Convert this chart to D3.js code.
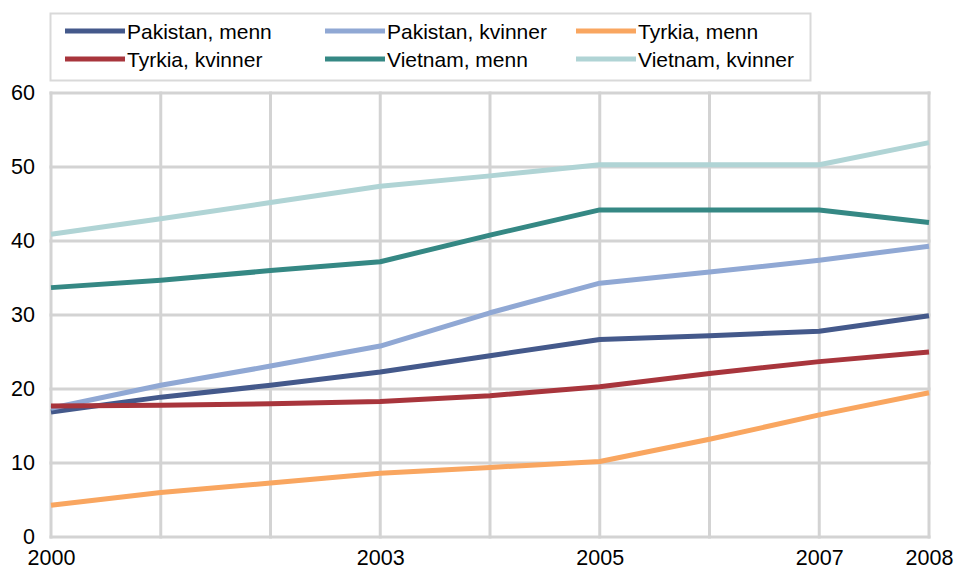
<!DOCTYPE html>
<html>
<head>
<meta charset="utf-8">
<script src="https://cdn.jsdelivr.net/npm/d3@7"></script>
<style>
  html, body { margin: 0; padding: 0; background: #fff; }
  svg { display: block; font-family: "Liberation Sans", Arial, sans-serif; }
</style>
</head>
<body>
<svg id="chart" width="955" height="574"></svg>
<script>
const years = [2000, 2001, 2002, 2003, 2004, 2005, 2006, 2007, 2008];
const xTickLabels = [2000, 2003, 2005, 2007, 2008];
const yTicks = [0, 10, 20, 30, 40, 50, 60];

const seriesNames = ["Pakistan, menn", "Pakistan, kvinner", "Tyrkia, menn", "Tyrkia, kvinner", "Vietnam, menn", "Vietnam, kvinner"];
const seriesColors = ["#44598b", "#90a8d4", "#f9a660", "#a8353c", "#358884", "#b0d4d5"];

const pakistanMenn    = [16.9, 18.9, 20.5, 22.3, 24.5, 26.7, 27.2, 27.8, 29.9];
const pakistanKvinner = [17.4, 20.5, 23.1, 25.8, 30.3, 34.3, 35.8, 37.4, 39.3];
const tyrkiaMenn      = [4.3, 6.0, 7.3, 8.6, 9.4, 10.2, 13.2, 16.5, 19.5];
const tyrkiaKvinner   = [17.7, 17.8, 18.0, 18.3, 19.1, 20.3, 22.1, 23.7, 25.0];
const vietnamMenn     = [33.7, 34.7, 36.0, 37.2, 40.8, 44.2, 44.2, 44.2, 42.5];
const vietnamKvinner  = [40.9, 43.0, 45.2, 47.4, 48.8, 50.3, 50.3, 50.3, 53.3];

const seriesValues = [pakistanMenn, pakistanKvinner, tyrkiaMenn, tyrkiaKvinner, vietnamMenn, vietnamKvinner];

const svg = d3.select("#chart");
const margin = { left: 51, right: 26, top: 93, bottom: 37 };
const W = 955, H = 574;

const x = d3.scaleLinear().domain([2000, 2008]).range([margin.left, W - margin.right]);
const y = d3.scaleLinear().domain([0, 60]).range([H - margin.bottom, margin.top]);

const gridColor = "#d3d3d3";

// vertical gridlines
svg.append("g").selectAll("line").data(years).join("line")
  .attr("x1", d => x(d)).attr("x2", d => x(d))
  .attr("y1", y(60) - 1.5).attr("y2", y(0) + 1.5)
  .attr("stroke", gridColor).attr("stroke-width", 3);

// horizontal gridlines
svg.append("g").selectAll("line").data(yTicks).join("line")
  .attr("x1", x(2000) - 1.5).attr("x2", x(2008) + 1.5)
  .attr("y1", d => y(d)).attr("y2", d => y(d))
  .attr("stroke", gridColor).attr("stroke-width", 3);

// y axis labels
const yAxis = d3.axisLeft(y).tickValues(yTicks).tickSize(0).tickPadding(16).tickFormat(d3.format("d"));
const gy = svg.append("g").attr("transform", `translate(${margin.left},0)`).call(yAxis);
gy.select(".domain").remove();
gy.selectAll("text").attr("font-size", 21.5).attr("fill", "#000")
  .attr("font-family", "'Liberation Sans', Arial, sans-serif");

// x axis labels
const xAxis = d3.axisBottom(x).tickValues(xTickLabels).tickSize(0).tickPadding(13).tickFormat(d3.format("d"));
const gx = svg.append("g").attr("transform", `translate(0,${y(0)})`).call(xAxis);
gx.select(".domain").remove();
gx.selectAll("text").attr("font-size", 21.5).attr("fill", "#000")
  .attr("font-family", "'Liberation Sans', Arial, sans-serif");

// lines
const line = d3.line().x((d, i) => x(years[i])).y(d => y(d));
svg.append("g").selectAll("path").data(seriesValues).join("path")
  .attr("d", d => line(d))
  .attr("fill", "none")
  .attr("stroke", (d, i) => seriesColors[i])
  .attr("stroke-width", 5)
  .attr("stroke-linejoin", "round")
  .attr("stroke-linecap", "butt");

// legend
const legend = svg.append("g");
legend.append("rect")
  .attr("x", 50.5).attr("y", 13.5).attr("width", 760).attr("height", 67)
  .attr("fill", "#fff").attr("stroke", "#d9d9d9").attr("stroke-width", 2);

const colX = [65, 325, 576];
const rowY = [32, 60];
seriesNames.forEach((name, i) => {
  const cx = colX[i % 3], cy = rowY[Math.floor(i / 3)];
  legend.append("line")
    .attr("x1", cx).attr("x2", cx + 60).attr("y1", cy - 1).attr("y2", cy - 1)
    .attr("stroke", seriesColors[i]).attr("stroke-width", 5);
  legend.append("text")
    .attr("x", cx + 62).attr("y", cy).attr("dy", "0.35em")
    .attr("font-size", 21).attr("fill", "#000")
    .text(name);
});
</script>
</body>
</html>
